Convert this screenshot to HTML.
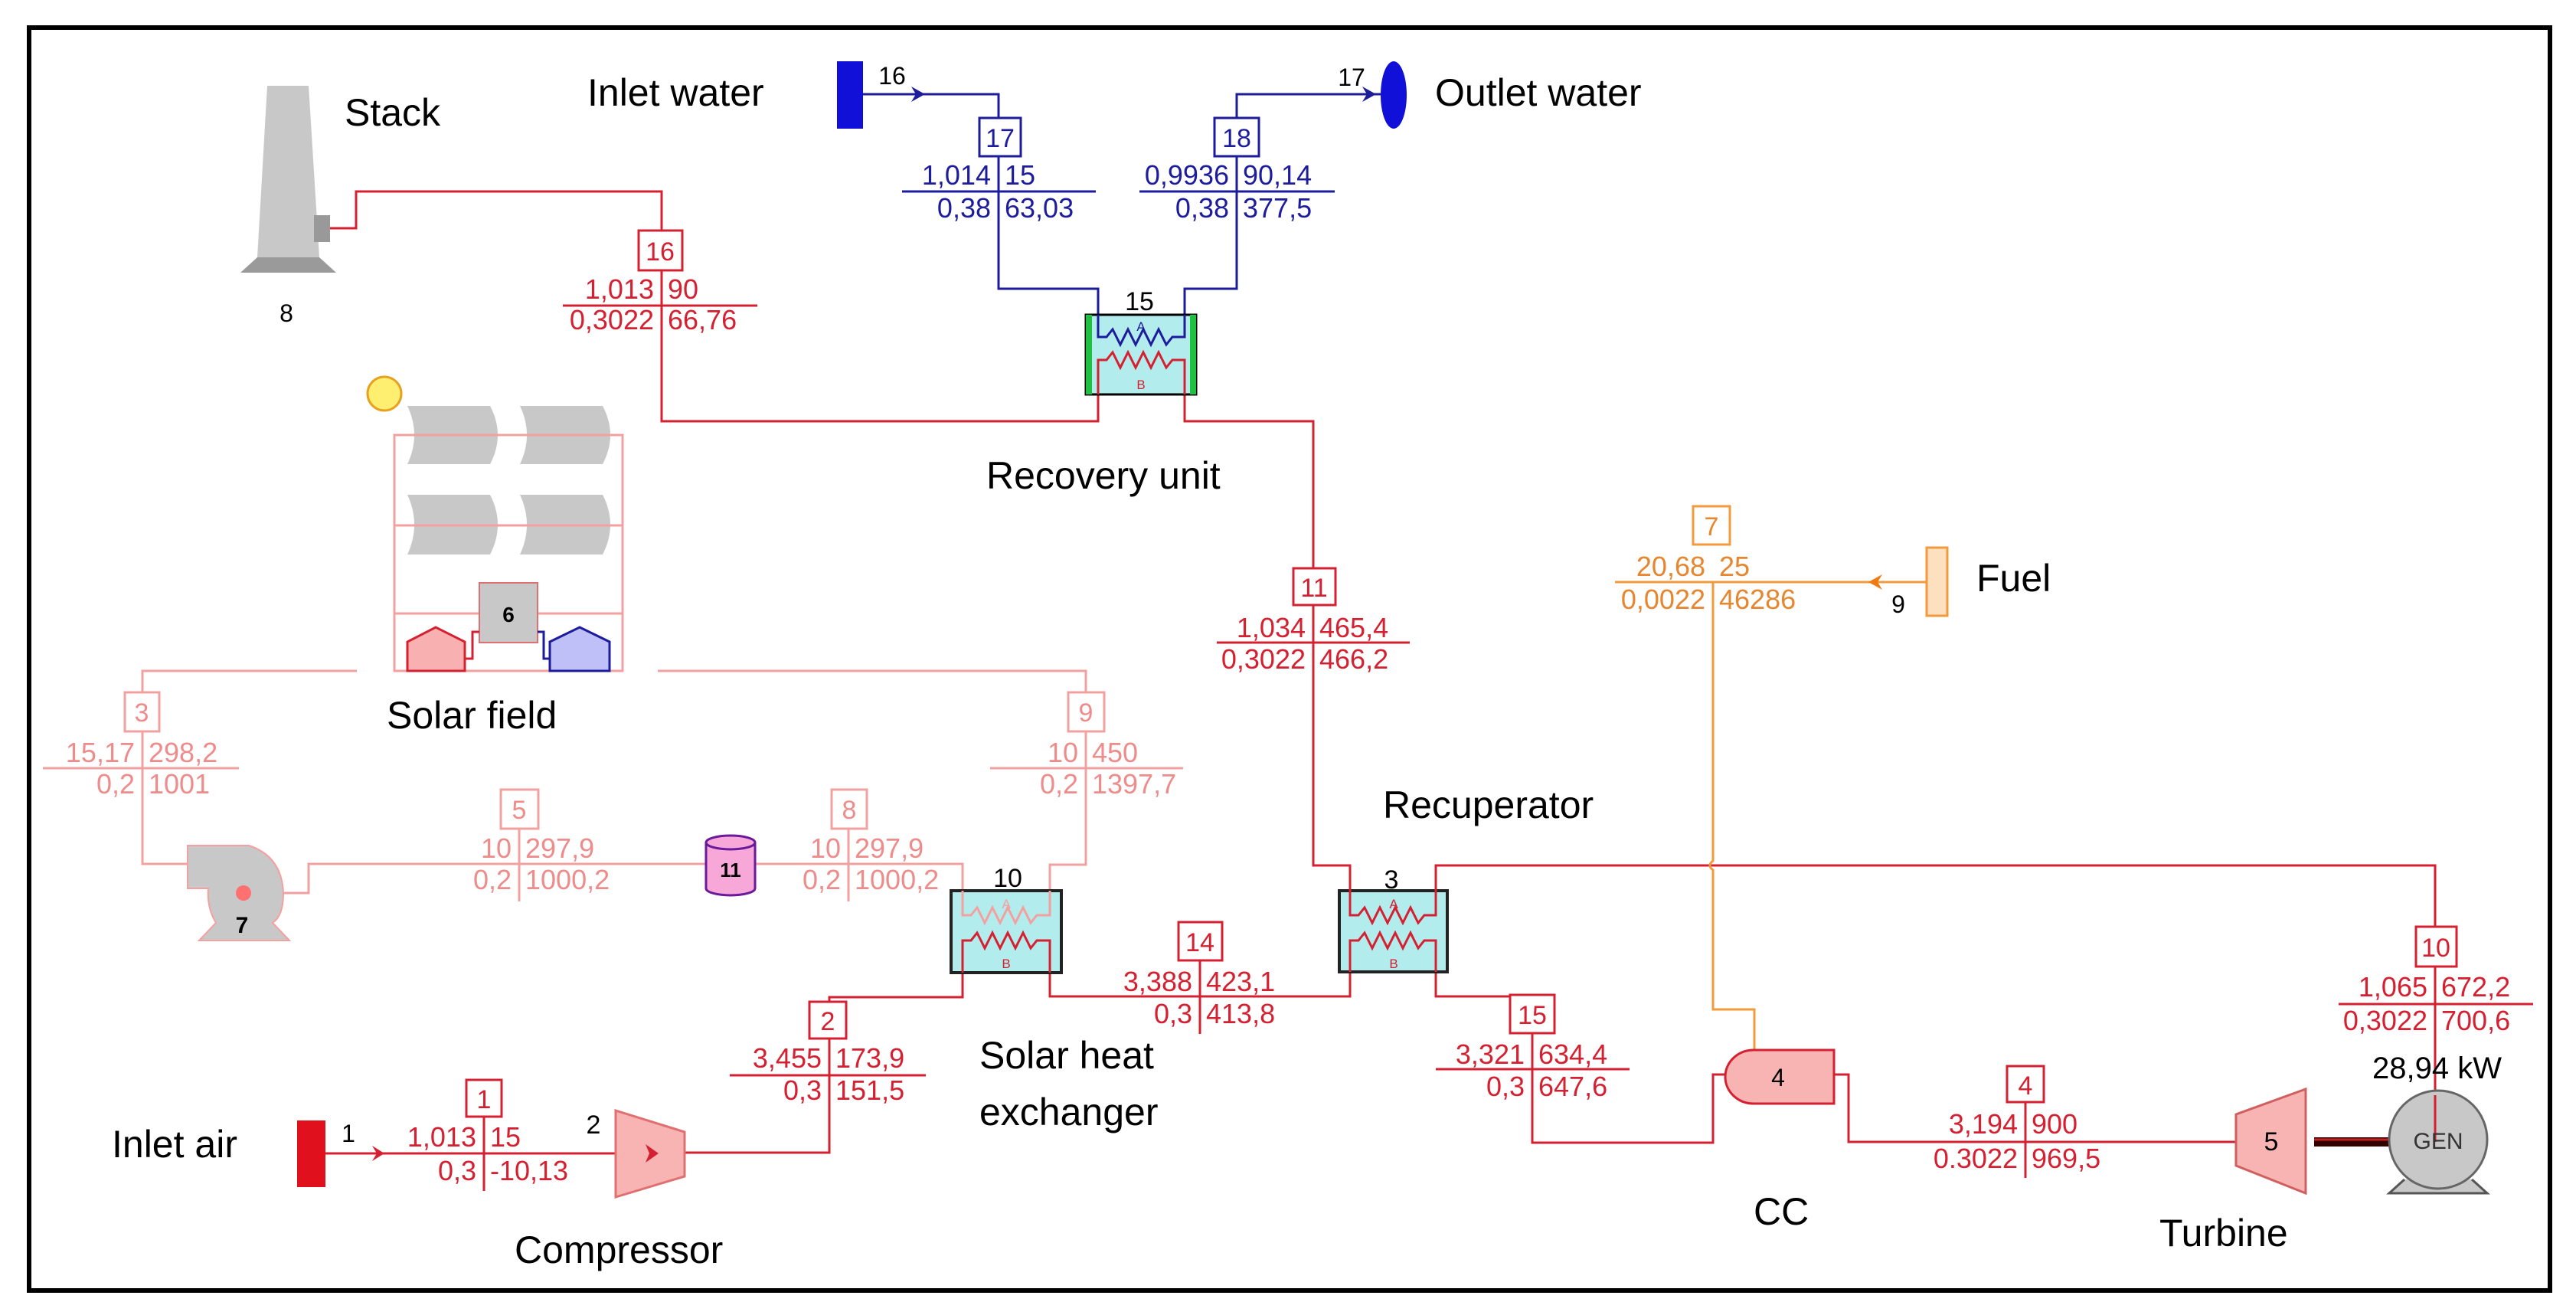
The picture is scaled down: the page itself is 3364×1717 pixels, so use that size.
<!DOCTYPE html>
<html><head><meta charset="utf-8"><style>
html,body{margin:0;padding:0;background:#fff;}
svg{display:block;}
text{font-family:"Liberation Sans",Arial,sans-serif;}
</style></head><body>
<svg width="3364" height="1717" viewBox="0 0 3364 1717" xmlns="http://www.w3.org/2000/svg">
<rect x="0" y="0" width="3364" height="1717" fill="#fff"/>
<rect x="38" y="36" width="3292" height="1649" fill="none" stroke="#000" stroke-width="6"/>

<!-- ===== Stack ===== -->
<polygon points="349,112 403,112 417,336 336,336" fill="#c8c8c8"/>
<polygon points="336,336 417,336 439,356 314,356" fill="#9a9a9a"/>
<rect x="410" y="281" width="21" height="35" fill="#999"/>
<text x="450" y="164" font-size="50" fill="#000">Stack</text>
<text x="374" y="420" font-size="32" fill="#000" text-anchor="middle">8</text>

<!-- ===== Labels ===== -->
<text x="767" y="138" font-size="50" fill="#000">Inlet water</text>
<text x="1874" y="138" font-size="50" fill="#000">Outlet water</text>
<text x="1288" y="638" font-size="50" fill="#000">Recovery unit</text>
<text x="1806" y="1068" font-size="50" fill="#000">Recuperator</text>
<text x="505" y="951" font-size="50" fill="#000">Solar field</text>
<text x="2581" y="772" font-size="50" fill="#000">Fuel</text>
<text x="146" y="1511" font-size="50" fill="#000">Inlet air</text>
<text x="672" y="1649" font-size="50" fill="#000">Compressor</text>
<text x="1279" y="1395" font-size="50" fill="#000">Solar heat</text>
<text x="1279" y="1469" font-size="50" fill="#000">exchanger</text>
<text x="2290" y="1599" font-size="50" fill="#000">CC</text>
<text x="2820" y="1627" font-size="50" fill="#000">Turbine</text>

<!-- ===== Red gas path lines ===== -->
<g fill="none" stroke="#d42030" stroke-width="3">
<path d="M431,298 H465 V250 H864 V550 H1434 V515"/>
<path d="M1547,515 V550 H1715 V1130 H1763 V1163"/>
<path d="M1875,1163 V1130 H3180 V1491"/>
<path d="M1763,1269 V1301 H1371 V1270"/>
<path d="M1257,1270 V1302 H1083 V1505 H894"/>
<path d="M425,1506 H804"/>
<path d="M1875,1269 V1301 H2001 V1492 H2237 V1403 H2253"/>
<path d="M2395,1403 H2414 V1491 H2920"/>
</g>
<!-- arrow on inlet air -->
<polygon points="486,1496 502,1506 486,1516 492,1506" fill="#d42030"/>
<rect x="388" y="1463" width="37" height="87" fill="#e0101c"/>
<text x="455" y="1491" font-size="32" fill="#000" text-anchor="middle">1</text>

<!-- ===== Blue water lines ===== -->
<g fill="none" stroke="#1c1c9c" stroke-width="3">
<path d="M1127,123 H1304 V377 H1434 V411"/>
<path d="M1547,411 V377 H1615 V123 H1803"/>
</g>
<rect x="1093" y="80" width="34" height="88" fill="#1010d8"/>
<polygon points="1190,113 1208,123 1190,133 1196,123" fill="#1c1c9c"/>
<polygon points="1779,113 1797,123 1779,133 1785,123" fill="#1c1c9c"/>
<ellipse cx="1820" cy="124" rx="17" ry="44" fill="#1010d8"/>
<text x="1165" y="110" font-size="32" fill="#000" text-anchor="middle">16</text>
<text x="1765" y="112" font-size="32" fill="#000" text-anchor="middle">17</text>

<!-- ===== Orange fuel ===== -->
<g fill="none" stroke="#f39a3c" stroke-width="3">
<path d="M2516,760 H2237 V1124 Q2229,1130 2237,1136 V1318 H2291 V1371"/>
</g>
<line x1="2109" y1="760" x2="2237" y2="760" stroke="#f39a3c" stroke-width="3"/>
<polygon points="2440,760 2458,750 2452,760 2458,770" fill="#f07a10"/>
<rect x="2516" y="715" width="27" height="89" fill="#fde0c0" stroke="#f39a3c" stroke-width="3"/>
<text x="2479" y="800" font-size="32" fill="#000" text-anchor="middle">9</text>

<!-- ===== Solar loop (pale) ===== -->
<g fill="none" stroke="#f3a0a0" stroke-width="3">
<path d="M466,876 H186 V1128 H245"/>
<path d="M859,876 H1418 V1129 H1371 V1163"/>
<path d="M368,1166 H403 V1128 H922"/>
<path d="M986,1128 H1257 V1163"/>
<rect x="515" y="568" width="298" height="308"/>
<line x1="515" y1="686" x2="813" y2="686"/>
<line x1="515" y1="801" x2="813" y2="801"/>
</g>

<!-- Solar field graphics -->
<circle cx="502" cy="514" r="22" fill="#ffef70" stroke="#e8a020" stroke-width="3"/>
<g fill="#c8c8c8">
<path d="M532,530 H640 Q660,568 640,606 H532 Q550,568 532,530 Z"/>
<path d="M679,530 H787 Q807,568 787,606 H679 Q697,568 679,530 Z"/>
<path d="M532,646 H640 Q660,685 640,724 H532 Q550,685 532,646 Z"/>
<path d="M679,646 H787 Q807,685 787,724 H679 Q697,685 679,646 Z"/>
</g>
<g fill="none" stroke="#f3a0a0" stroke-width="3">
<line x1="515" y1="568" x2="813" y2="568"/>
<line x1="515" y1="686" x2="813" y2="686"/>
</g>
<rect x="626" y="761" width="76" height="78" fill="#c8c8c8" stroke="#e07070" stroke-width="2"/>
<text x="664" y="812" font-size="28" fill="#000" text-anchor="middle" font-weight="bold">6</text>
<polygon points="532,876 532,838 569,819 607,838 607,876" fill="#f8b0b0" stroke="#d42030" stroke-width="3"/>
<polygon points="718,876 718,838 757,819 796,838 796,876" fill="#c0c0f8" stroke="#1c1c9c" stroke-width="3"/>
<path d="M607,860 H617 V825 H626" fill="none" stroke="#d42030" stroke-width="3"/>
<path d="M702,825 H710 V860 H718" fill="none" stroke="#1c1c9c" stroke-width="3"/>

<!-- Pump 7 -->
<path d="M245,1104 H325 Q368,1118 370,1166 Q370,1196 356,1205 L378,1228 H260 L282,1205 Q270,1185 272,1160 H245 Z" fill="#c8c8c8" stroke="#f3a0a0" stroke-width="2"/>
<circle cx="318" cy="1166" r="10" fill="#ff7070"/>
<text x="316" y="1218" font-size="30" fill="#000" text-anchor="middle" font-weight="bold">7</text>

<!-- Tank 11 -->
<path d="M922,1100 V1160 A32,9 0 0 0 986,1160 V1100" fill="#f8a8d8" stroke="#6a1a9a" stroke-width="3"/>
<ellipse cx="954" cy="1100" rx="32" ry="9" fill="#f8a8d8" stroke="#6a1a9a" stroke-width="3"/>
<text x="954" y="1145" font-size="26" fill="#000" text-anchor="middle" font-weight="bold">11</text>

<!-- ===== Heat exchangers ===== -->
<!-- HX15 recovery -->
<rect x="1418" y="411" width="144" height="104" fill="#b3ecec" stroke="#000" stroke-width="3"/>
<rect x="1418" y="411" width="8" height="104" fill="#20c040"/>
<rect x="1554" y="411" width="8" height="104" fill="#20c040"/>
<path d="M1434,411 V440 H1445 l8,-10 l10,20 l10,-20 l10,20 l10,-20 l10,20 l10,-20 l10,20 l8,-10 H1547 V411" fill="none" stroke="#1c1c9c" stroke-width="3"/>
<path d="M1434,515 V470 H1445 l8,-10 l10,20 l10,-20 l10,20 l10,-20 l10,20 l10,-20 l10,20 l8,-10 H1547 V515" fill="none" stroke="#d42030" stroke-width="3"/>
<text x="1490" y="432" font-size="17" fill="#1c1c9c" text-anchor="middle">A</text>
<text x="1490" y="508" font-size="17" fill="#d42030" text-anchor="middle">B</text>
<text x="1488" y="405" font-size="34" fill="#000" text-anchor="middle">15</text>

<!-- HX10 solar -->
<rect x="1242" y="1163" width="144" height="107" fill="#b3ecec" stroke="#222" stroke-width="4"/>
<path d="M1257,1163 V1195 H1268 l8,-10 l10,20 l10,-20 l10,20 l10,-20 l10,20 l10,-20 l10,20 l8,-10 H1371 V1163" fill="none" stroke="#f3a0a0" stroke-width="3"/>
<path d="M1257,1270 V1228 H1268 l8,-10 l10,20 l10,-20 l10,20 l10,-20 l10,20 l10,-20 l10,20 l8,-10 H1371 V1270" fill="none" stroke="#d42030" stroke-width="3"/>
<text x="1314" y="1186" font-size="17" fill="#f3a0a0" text-anchor="middle">A</text>
<text x="1314" y="1264" font-size="17" fill="#d42030" text-anchor="middle">B</text>
<text x="1316" y="1158" font-size="34" fill="#000" text-anchor="middle">10</text>

<!-- Recuperator 3 -->
<rect x="1749" y="1163" width="141" height="106" fill="#b3ecec" stroke="#222" stroke-width="4"/>
<path d="M1763,1130 V1195 H1774 l8,-10 l10,20 l10,-20 l10,20 l10,-20 l10,20 l10,-20 l10,20 l8,-10 H1875 V1130" fill="none" stroke="#d42030" stroke-width="3"/>
<path d="M1763,1269 V1228 H1774 l8,-10 l10,20 l10,-20 l10,20 l10,-20 l10,20 l10,-20 l10,20 l8,-10 H1875 V1269" fill="none" stroke="#d42030" stroke-width="3"/>
<text x="1820" y="1186" font-size="17" fill="#d42030" text-anchor="middle">A</text>
<text x="1820" y="1264" font-size="17" fill="#d42030" text-anchor="middle">B</text>
<text x="1817" y="1160" font-size="34" fill="#000" text-anchor="middle">3</text>

<!-- Compressor -->
<polygon points="804,1450 894,1478 894,1536 804,1563" fill="#f8b3b3" stroke="#e07070" stroke-width="3"/>
<polygon points="843,1494 860,1506 843,1518 848,1506" fill="#d42030"/>
<text x="775" y="1480" font-size="34" fill="#000" text-anchor="middle">2</text>

<!-- CC -->
<path d="M2290,1371 H2395 V1441 H2290 A37,35 0 0 1 2290,1371 Z" fill="#f8b3b3" stroke="#d42030" stroke-width="3"/>
<text x="2322" y="1418" font-size="32" fill="#000" text-anchor="middle">4</text>

<!-- Turbine -->
<polygon points="2920,1455 3011,1422 3011,1558 2920,1522" fill="#f8b3b3" stroke="#d06060" stroke-width="3"/>
<text x="2966" y="1502" font-size="34" fill="#000" text-anchor="middle">5</text>
<rect x="3022" y="1485" width="98" height="12" fill="#300"/>
<line x1="3022" y1="1488" x2="3120" y2="1488" stroke="#c02020" stroke-width="3"/>

<!-- Generator -->
<path d="M3140,1540 L3120,1558 H3248 L3228,1540" fill="#c8c8c8" stroke="#555" stroke-width="3"/>
<circle cx="3184" cy="1488" r="64" fill="#c8c8c8" stroke="#666" stroke-width="3"/>
<line x1="3180" y1="1430" x2="3180" y2="1491" stroke="#d42030" stroke-width="3"/>
<text x="3184" y="1500" font-size="30" fill="#333" text-anchor="middle">GEN</text>
<text x="3098" y="1408" font-size="40" fill="#000">28,94 kW</text>

<!-- ===== Data boxes ===== -->
<g font-size="36">
<!-- 16 red -->
<g fill="#d42030" stroke="none">
<rect x="834" y="301" width="57" height="52" fill="#fff" stroke="#d42030" stroke-width="3"/>
<text x="862" y="340" text-anchor="middle" font-size="34">16</text>
<text x="854" y="390" text-anchor="end">1,013</text><text x="872" y="390">90</text>
<text x="854" y="430" text-anchor="end">0,3022</text><text x="872" y="430">66,76</text>
</g>
<line x1="735" y1="399" x2="989" y2="399" stroke="#d42030" stroke-width="3"/>

<!-- 17 blue -->
<g fill="#1c1c9c">
<rect x="1279" y="154" width="54" height="50" fill="#fff" stroke="#1c1c9c" stroke-width="3"/>
<text x="1306" y="192" text-anchor="middle" font-size="34">17</text>
<text x="1294" y="241" text-anchor="end">1,014</text><text x="1312" y="241">15</text>
<text x="1294" y="284" text-anchor="end">0,38</text><text x="1312" y="284">63,03</text>
</g>
<line x1="1178" y1="250" x2="1431" y2="250" stroke="#1c1c9c" stroke-width="3"/>
<!-- 18 blue -->
<g fill="#1c1c9c">
<rect x="1586" y="154" width="58" height="50" fill="#fff" stroke="#1c1c9c" stroke-width="3"/>
<text x="1615" y="192" text-anchor="middle" font-size="34">18</text>
<text x="1605" y="241" text-anchor="end">0,9936</text><text x="1623" y="241">90,14</text>
<text x="1605" y="284" text-anchor="end">0,38</text><text x="1623" y="284">377,5</text>
</g>
<line x1="1488" y1="250" x2="1743" y2="250" stroke="#1c1c9c" stroke-width="3"/>

<!-- 11 red -->
<g fill="#d42030">
<rect x="1689" y="742" width="55" height="48" fill="#fff" stroke="#d42030" stroke-width="3"/>
<text x="1716" y="779" text-anchor="middle" font-size="34">11</text>
<text x="1705" y="832" text-anchor="end">1,034</text><text x="1723" y="832">465,4</text>
<text x="1705" y="873" text-anchor="end">0,3022</text><text x="1723" y="873">466,2</text>
</g>
<line x1="1589" y1="839" x2="1841" y2="839" stroke="#d42030" stroke-width="3"/>

<!-- 7 orange -->
<g fill="#e6862e">
<rect x="2211" y="661" width="48" height="50" fill="#fff" stroke="#f39a3c" stroke-width="3"/>
<text x="2235" y="699" text-anchor="middle" font-size="34">7</text>
<text x="2227" y="752" text-anchor="end">20,68</text><text x="2245" y="752">25</text>
<text x="2227" y="795" text-anchor="end">0,0022</text><text x="2245" y="795">46286</text>
</g>

<!-- 3 pale -->
<g fill="#ee8c8c">
<rect x="163" y="904" width="45" height="51" fill="#fff" stroke="#f3a0a0" stroke-width="3"/>
<text x="185" y="942" text-anchor="middle" font-size="34">3</text>
<text x="176" y="995" text-anchor="end">15,17</text><text x="194" y="995">298,2</text>
<text x="176" y="1036" text-anchor="end">0,2</text><text x="194" y="1036">1001</text>
</g>
<line x1="56" y1="1003" x2="312" y2="1003" stroke="#f3a0a0" stroke-width="3"/>
<!-- 9 pale -->
<g fill="#ee8c8c">
<rect x="1395" y="904" width="47" height="51" fill="#fff" stroke="#f3a0a0" stroke-width="3"/>
<text x="1418" y="942" text-anchor="middle" font-size="34">9</text>
<text x="1408" y="995" text-anchor="end">10</text><text x="1426" y="995">450</text>
<text x="1408" y="1036" text-anchor="end">0,2</text><text x="1426" y="1036">1397,7</text>
</g>
<line x1="1293" y1="1003" x2="1545" y2="1003" stroke="#f3a0a0" stroke-width="3"/>
<!-- 5 pale -->
<g fill="#ee8c8c">
<line x1="678" y1="1082" x2="678" y2="1177" stroke="#f3a0a0" stroke-width="3"/>
<rect x="654" y="1031" width="49" height="51" fill="#fff" stroke="#f3a0a0" stroke-width="3"/>
<text x="678" y="1069" text-anchor="middle" font-size="34">5</text>
<text x="668" y="1120" text-anchor="end">10</text><text x="686" y="1120">297,9</text>
<text x="668" y="1161" text-anchor="end">0,2</text><text x="686" y="1161">1000,2</text>
</g>
<!-- 8 pale -->
<g fill="#ee8c8c">
<line x1="1108" y1="1082" x2="1108" y2="1177" stroke="#f3a0a0" stroke-width="3"/>
<rect x="1086" y="1031" width="46" height="51" fill="#fff" stroke="#f3a0a0" stroke-width="3"/>
<text x="1109" y="1069" text-anchor="middle" font-size="34">8</text>
<text x="1098" y="1120" text-anchor="end">10</text><text x="1116" y="1120">297,9</text>
<text x="1098" y="1161" text-anchor="end">0,2</text><text x="1116" y="1161">1000,2</text>
</g>

<!-- 14 -->
<g fill="#d42030">
<line x1="1567" y1="1253" x2="1567" y2="1350" stroke="#d42030" stroke-width="3"/>
<rect x="1539" y="1204" width="57" height="50" fill="#fff" stroke="#d42030" stroke-width="3"/>
<text x="1567" y="1242" text-anchor="middle" font-size="34">14</text>
<text x="1557" y="1294" text-anchor="end">3,388</text><text x="1575" y="1294">423,1</text>
<text x="1557" y="1336" text-anchor="end">0,3</text><text x="1575" y="1336">413,8</text>
</g>
<line x1="1450" y1="1301" x2="1371" y2="1301" stroke="#d42030" stroke-width="3"/>

<!-- 2 -->
<g fill="#d42030">
<rect x="1057" y="1308" width="48" height="48" fill="#fff" stroke="#d42030" stroke-width="3"/>
<text x="1081" y="1345" text-anchor="middle" font-size="34">2</text>
<text x="1073" y="1394" text-anchor="end">3,455</text><text x="1091" y="1394">173,9</text>
<text x="1073" y="1436" text-anchor="end">0,3</text><text x="1091" y="1436">151,5</text>
</g>
<line x1="953" y1="1404" x2="1209" y2="1404" stroke="#d42030" stroke-width="3"/>

<!-- 1 -->
<g fill="#d42030">
<line x1="632" y1="1458" x2="632" y2="1555" stroke="#d42030" stroke-width="3"/>
<rect x="609" y="1410" width="46" height="48" fill="#fff" stroke="#d42030" stroke-width="3"/>
<text x="632" y="1447" text-anchor="middle" font-size="34">1</text>
<text x="622" y="1497" text-anchor="end">1,013</text><text x="640" y="1497">15</text>
<text x="622" y="1541" text-anchor="end">0,3</text><text x="640" y="1541">-10,13</text>
</g>

<!-- 15 -->
<g fill="#d42030">
<rect x="1972" y="1299" width="58" height="50" fill="#fff" stroke="#d42030" stroke-width="3"/>
<text x="2001" y="1337" text-anchor="middle" font-size="34">15</text>
<text x="1991" y="1389" text-anchor="end">3,321</text><text x="2009" y="1389">634,4</text>
<text x="1991" y="1431" text-anchor="end">0,3</text><text x="2009" y="1431">647,6</text>
</g>
<line x1="1875" y1="1396" x2="2128" y2="1396" stroke="#d42030" stroke-width="3"/>

<!-- 4 -->
<g fill="#d42030">
<line x1="2645" y1="1439" x2="2645" y2="1538" stroke="#d42030" stroke-width="3"/>
<rect x="2621" y="1392" width="48" height="47" fill="#fff" stroke="#d42030" stroke-width="3"/>
<text x="2645" y="1429" text-anchor="middle" font-size="34">4</text>
<text x="2635" y="1480" text-anchor="end">3,194</text><text x="2653" y="1480">900</text>
<text x="2635" y="1525" text-anchor="end">0.3022</text><text x="2653" y="1525">969,5</text>
</g>

<!-- 10 -->
<g fill="#d42030">
<rect x="3155" y="1210" width="53" height="52" fill="#fff" stroke="#d42030" stroke-width="3"/>
<text x="3181" y="1249" text-anchor="middle" font-size="34">10</text>
<text x="3170" y="1301" text-anchor="end">1,065</text><text x="3188" y="1301">672,2</text>
<text x="3170" y="1345" text-anchor="end">0,3022</text><text x="3188" y="1345">700,6</text>
</g>
<line x1="3054" y1="1311" x2="3308" y2="1311" stroke="#d42030" stroke-width="3"/>
</g>
</svg>
</body></html>
